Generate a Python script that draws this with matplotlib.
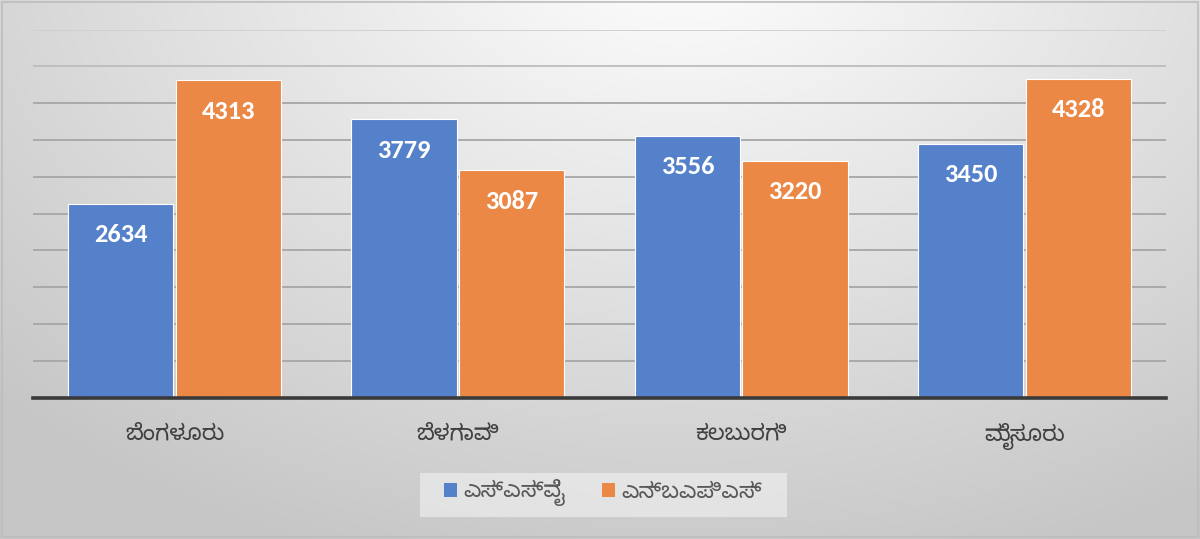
import matplotlib
matplotlib.use("Agg")
import matplotlib.pyplot as plt
from matplotlib import font_manager
from matplotlib.patches import Rectangle
import numpy as np

# Data
districts = ["ಬೆಂಗಳೂರು", "ಬೆಳಗಾವಿ", "ಕಲಬುರಗಿ", "ಮೈಸೂರು"]
series_names = ["ಎಸ್ಎಸ್ವೈ", "ಎನ್ಬಎಪಿಎಸ್"]
ssy_values = [2634, 3779, 3556, 3450]
nbaps_values = [4313, 3087, 3220, 4328]
y_ticks = [0, 500, 1000, 1500, 2000, 2500, 3000, 3500, 4000, 4500, 5000]

colors = ["#5581CA", "#EB8846"]

available = {f.name for f in font_manager.fontManager.ttflist}


def pick(cands):
    for c in cands:
        if c in available:
            return c
    return "DejaVu Sans"


kn_font = pick(["Noto Sans Kannada", "Anek Kannada", "Baloo Tamma 2", "Noto Serif Kannada"])
num_font = pick(["Carlito", "Open Sans", "Noto Sans", "DejaVu Sans"])
kn_family = [kn_font, "DejaVu Sans"]

W, H = 1200, 539
fig = plt.figure(figsize=(W / 100, H / 100), dpi=100)

# Radial background shading, light at top centre, grey toward edges
bg = fig.add_axes([0, 0, 1, 1], zorder=0)
yy, xx = np.mgrid[0:H, 0:W]
d = np.sqrt(((xx - 680) / 900.0) ** 2 + ((yy + 60) / 620.0) ** 2)
shade = np.clip(1.0 - 0.21 * d, 0.78, 1.0)
img = np.dstack([shade, shade, shade])
bg.imshow(img, extent=[0, 1, 0, 1], aspect="auto", origin="upper")
bg.set_xlim(0, 1)
bg.set_ylim(0, 1)
bg.axis("off")
# outer frame
bg.add_patch(Rectangle((0.0015, 0.003), 0.997, 0.994, fill=False,
                       edgecolor="#BDBDBD", linewidth=1.2, transform=bg.transAxes))
# legend plate
bg.add_patch(Rectangle((420 / W, 1 - 517 / H), 367 / W, 44 / H,
                       facecolor="#EDEDED", edgecolor="none", alpha=0.7,
                       transform=bg.transAxes))

ax = fig.add_axes([33 / W, 1 - 397.5 / H, 1133 / W, 368 / H], zorder=1)
ax.patch.set_alpha(0)

x = np.arange(len(districts))
bw = 0.372
bars1 = ax.bar(x - bw / 2 - 0.004, ssy_values, bw, color=colors[0],
               edgecolor="white", linewidth=0.8, zorder=3, label=series_names[0])
bars2 = ax.bar(x + bw / 2 + 0.004, nbaps_values, bw, color=colors[1],
               edgecolor="white", linewidth=0.8, zorder=3, label=series_names[1])

for bars, vals in ((bars1, ssy_values), (bars2, nbaps_values)):
    for b, v in zip(bars, vals):
        ax.annotate(f"{v}", (b.get_x() + b.get_width() / 2, v),
                    xytext=(0, -31), textcoords="offset pixels",
                    ha="center", va="center", color="white", fontsize=19,
                    fontweight="bold", family=num_font, zorder=5)

ax.set_xlim(-0.5, len(districts) - 0.5)
ax.set_ylim(0, 5000)
ax.set_yticks(y_ticks)
ax.yaxis.grid(True, color="#A6A6A6", linewidth=1.3, zorder=0)
ax.set_axisbelow(True)
# the topmost gridlines fade into the light background
grid_lines = ax.get_ygridlines()
grid_lines[-1].set_color("#CFCFCF")
grid_lines[-2].set_color("#BDBDBD")
ax.tick_params(axis="y", left=False, labelleft=False)
ax.tick_params(axis="x", bottom=False, pad=15)
ax.set_xticks(x)
ax.set_xticklabels(districts, family=kn_family, fontsize=16, color="#404040")
for s in ("top", "right", "left"):
    ax.spines[s].set_visible(False)
ax.spines["bottom"].set_color("#3A3A3A")
ax.spines["bottom"].set_linewidth(2.6)
ax.spines["bottom"].set_zorder(4)

leg = fig.legend(handles=[bars1, bars2], labels=series_names,
                 loc="center", bbox_to_anchor=(603 / W, 1 - 493 / H), ncol=2,
                 frameon=False, handlelength=0.6, handleheight=0.6,
                 handletextpad=0.3, columnspacing=1.8,
                 prop={"family": kn_family, "size": 16})
for t in leg.get_texts():
    t.set_color("#595959")
for h in leg.legend_handles:
    h.set_edgecolor("none")

fig.savefig("out.png", dpi=100)
